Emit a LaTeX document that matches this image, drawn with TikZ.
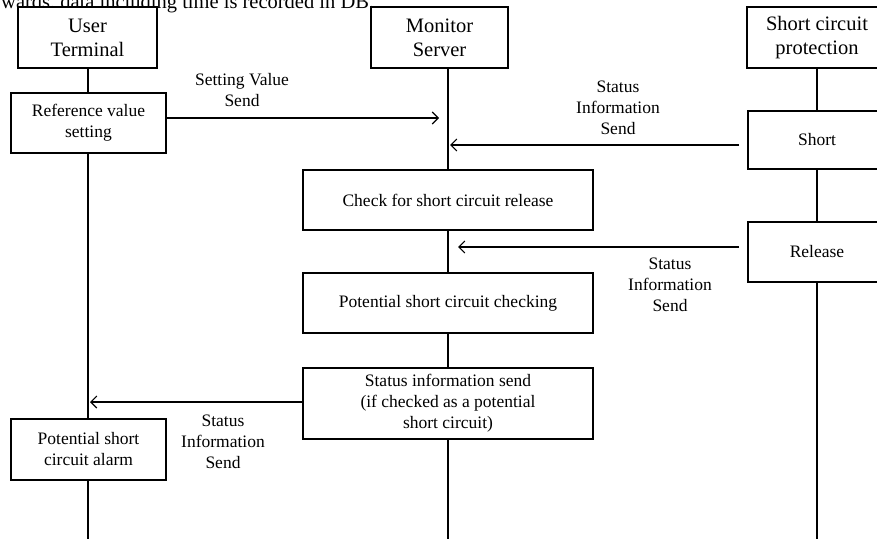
\documentclass[tikz,border=0pt]{standalone}
\usepackage{fontspec}
\setmainfont{Liberation Serif}
\usepackage{tikz}
\usetikzlibrary{arrows.meta}

\begin{document}
\begin{tikzpicture}[
    x=1pt, y=-1pt,
    every node/.style={font=\fontsize{17.5}{21}\selectfont},
    actor/.style={draw, line width=1.9pt, fill=white, align=center, minimum height=61pt,
        font=\fontsize{20.5}{24}\selectfont},
    action/.style={draw, line width=1.1pt, fill=white, align=center, minimum height=60pt},
    lifeline/.style={line width=1.1pt},
    msg/.style={line width=1.1pt, -{Straight Barb[length=6pt,width=12pt,line width=1.1pt]}},
    msglabel/.style={align=center, inner sep=0pt}
]

\clip (0,0) rectangle (877,541);

% Caption line cut off at the top
\node[anchor=base west, inner sep=0pt, font=\fontsize{20.5}{24}\selectfont] (cut) at (1,8)
    {wards, data including time is recorded in DB.};

% Lifelines
\foreach \name/\x in {user/88, mon/448, scp/817} {
    \coordinate (\name top) at (\x,68);
    \coordinate (\name end) at (\x,539);
    \draw[lifeline] (\name top) -- (\name end);
}

% Actors
\node[actor, minimum width=139pt] (userhead) at (87.5,37.5) {User\\Terminal};
\node[actor, minimum width=137pt] (monhead) at (439.5,37.5) {Monitor\\Server};
\node[actor, minimum width=140pt] (scphead) at (817,37.5) {Short circuit\\protection};

% Actions
\node[action, minimum width=155pt] (refset) at (88.5,123) {Reference value\\setting};
\node[action, minimum width=138pt, minimum height=58pt] (short) at (817,140) {Short};
\node[action, minimum width=290pt] (check) at (448,200) {Check for short circuit release};
\node[action, minimum width=138pt] (release) at (817,252) {Release};
\node[action, minimum width=290pt] (pcheck) at (448,303) {Potential short circuit checking};
\node[action, minimum width=290pt, minimum height=71pt] (statsend) at (448,403.5)
    {Status information send\\(if checked as a potential\\short circuit)};
\node[action, minimum width=155pt, minimum height=61pt] (alarm) at (88.5,449.5) {Potential short\\circuit alarm};

% Messages
\coordinate (settip) at (439,118);
\draw[msg] (refset.east |- settip) -- (settip);

\coordinate (shortout) at (739,145);
\coordinate (shorttip) at (450,145);
\draw[msg] (shortout) -- (shorttip);

\coordinate (releaseout) at (739,247);
\coordinate (releasetip) at (458,247);
\draw[msg] (releaseout) -- (releasetip);

\coordinate (stattip) at (90,402);
\draw[msg] (statsend.west |- stattip) -- (stattip);

% Message labels
\node[msglabel] (setlabel) at (242,90) {Setting Value\\Send};
\node[msglabel] (shortlabel) at (618,108) {Status\\Information\\Send};
\node[msglabel] (releaselabel) at (670,285) {Status\\Information\\Send};
\node[msglabel] (statlabel) at (223,442) {Status\\Information\\Send};

\end{tikzpicture}
\end{document}
